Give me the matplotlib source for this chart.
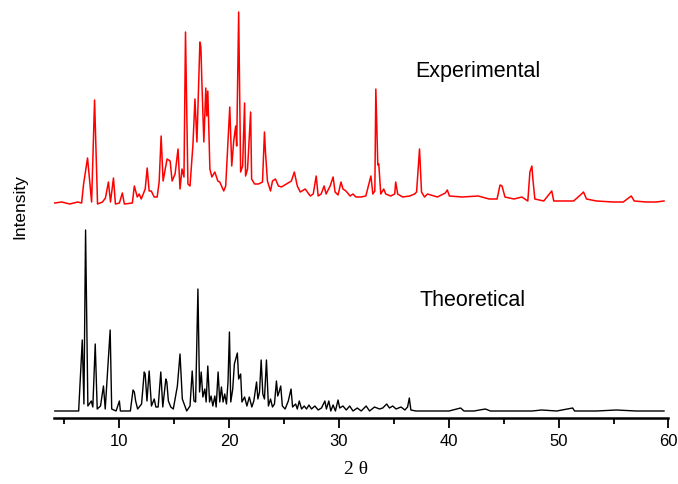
import matplotlib
matplotlib.use("Agg")
import matplotlib.pyplot as plt
import numpy as np

# Experimental pattern (2-theta, intensity a.u.)
exp_2theta = [4.12, 4.75, 5.48, 6.20, 6.56, 6.74, 7.10, 7.47, 7.74, 8.01, 8.46, 8.73, 9.00, 9.19, 9.46, 9.64,
              10.00, 10.27, 10.45, 11.18, 11.36, 11.63, 11.81, 11.99, 12.35, 12.53, 12.71, 12.90, 13.17, 13.44,
              13.62, 13.80, 13.98, 14.34, 14.62, 14.80, 15.07, 15.34, 15.52, 15.70, 15.88, 16.02, 16.24, 16.43,
              16.70, 16.88, 17.06, 17.33, 17.42, 17.51, 17.69, 17.87, 17.96, 18.05, 18.24, 18.42, 18.69, 18.96,
              19.14, 19.50, 19.68, 20.05, 20.23, 20.41, 20.59, 20.68, 20.86, 21.04, 21.22, 21.40, 21.49, 21.67,
              21.95, 22.04, 22.31, 22.67, 23.03, 23.21, 23.30, 23.48, 23.76, 23.94, 24.21, 24.48, 24.75, 25.20,
              25.66, 25.93, 26.20, 26.47, 26.92, 27.38, 27.65, 27.92, 28.10, 28.37, 28.64, 28.82, 29.19, 29.46,
              29.64, 29.91, 30.18, 30.36, 30.63, 31.00, 31.27, 31.54, 31.99, 32.44, 32.90, 33.08, 33.26, 33.35,
              33.53, 33.62, 33.80, 34.07, 34.25, 34.71, 35.07, 35.16, 35.34, 35.79, 36.43, 36.88, 37.06, 37.33,
              37.51, 37.78, 38.05, 38.96, 39.68, 39.86, 40.05, 41.22, 42.67, 43.67, 44.39, 44.66, 44.84, 45.11,
              45.93, 46.65, 47.19, 47.38, 47.56, 47.65, 47.83, 48.64, 49.37, 49.55, 50.45, 51.36, 52.08, 52.26,
              52.53, 53.44, 54.98, 55.88, 56.61, 56.88, 57.96, 58.87, 59.59]
exp_int = [1, 2, 0, 2, 1, 20, 46, 2, 104, 0, 2, 6, 22, 2, 26, 0,
           1, 11, 0, 1, 18, 7, 10, 5, 15, 36, 13, 13, 7, 7,
           22, 68, 23, 45, 43, 23, 30, 55, 15, 35, 27, 172, 20, 18,
           60, 105, 62, 162, 157, 122, 62, 116, 88, 113, 35, 27, 32, 23,
           22, 13, 18, 97, 38, 63, 78, 58, 192, 32, 38, 101, 28, 35,
           92, 25, 20, 20, 22, 72, 52, 23, 13, 23, 25, 18, 17, 20,
           23, 32, 18, 12, 15, 8, 10, 28, 8, 10, 18, 10, 18, 27,
           12, 9, 22, 15, 13, 8, 10, 7, 7, 8, 28, 10, 13, 115,
           39, 40, 10, 15, 10, 8, 10, 22, 10, 7, 8, 10, 12, 55,
           12, 7, 10, 7, 11, 14, 8, 7, 8, 5, 5, 19, 18, 7,
           5, 7, 3, 32, 38, 25, 5, 3, 13, 3, 3, 3, 10, 12,
           5, 3, 2, 2, 8, 3, 2, 2, 3]

# Theoretical (calculated) pattern
theo_2theta = [4.12, 6.29, 6.62, 6.77, 6.92, 7.13, 7.44, 7.58, 7.80, 7.98, 8.28, 8.55, 8.71, 9.16, 9.30, 9.70,
               10.00, 10.09, 11.00, 11.24, 11.36, 11.48, 11.66, 12.02, 12.26, 12.35, 12.51, 12.71, 12.92, 13.17,
               13.32, 13.53, 13.77, 13.95, 14.23, 14.32, 14.46, 14.68, 14.91, 15.28, 15.52, 15.73, 16.13, 16.43,
               16.63, 16.79, 16.94, 17.15, 17.30, 17.45, 17.60, 17.78, 17.90, 18.05, 18.21, 18.35, 18.51, 18.69,
               18.81, 18.99, 19.14, 19.29, 19.44, 19.59, 19.75, 19.89, 20.02, 20.14, 20.32, 20.47, 20.74, 20.86,
               21.04, 21.16, 21.40, 21.61, 21.83, 22.06, 22.24, 22.49, 22.61, 22.76, 22.91, 23.06, 23.21, 23.39,
               23.57, 23.76, 23.94, 24.12, 24.30, 24.42, 24.54, 24.69, 24.84, 25.09, 25.38, 25.63, 25.77, 26.05,
               26.20, 26.38, 26.59, 26.83, 27.04, 27.26, 27.49, 27.80, 28.10, 28.40, 28.71, 28.85, 29.07, 29.25,
               29.46, 29.67, 29.91, 30.06, 30.36, 30.66, 30.97, 31.27, 31.66, 32.02, 32.47, 32.78, 33.23, 33.68,
               33.98, 34.34, 34.59, 34.89, 35.19, 35.64, 36.00, 36.24, 36.40, 36.54, 37.00, 37.76, 38.96, 40.02,
               41.07, 41.38, 42.28, 43.33, 43.78, 45.00, 46.20, 47.56, 48.46, 49.82, 51.27, 51.45, 53.44, 55.25,
               57.06, 59.59]
theo_int = [0, 0, 71, 7, 181, 5, 10, 4, 67, 2, 5, 25, 2, 81, 2, 0,
            10, 0, 0, 21, 19, 10, 2, 7, 39, 37, 10, 40, 5, 12,
            4, 4, 39, 4, 32, 29, 10, 4, 2, 25, 57, 12, 0, 5,
            40, 10, 9, 122, 19, 39, 14, 22, 9, 45, 9, 15, 5, 15,
            4, 39, 9, 24, 9, 17, 7, 29, 79, 9, 22, 47, 58, 32,
            37, 9, 14, 5, 14, 4, 10, 29, 12, 19, 51, 17, 12, 51,
            5, 12, 4, 7, 30, 15, 19, 25, 5, 2, 10, 22, 4, 7,
            2, 10, 2, 5, 2, 6, 2, 5, 1, 3, 10, 2, 10, 0,
            6, 0, 11, 3, 5, 1, 5, 0, 3, 0, 5, 0, 4, 2,
            3, 7, 3, 5, 2, 4, 1, 4, 13, 1, 0, 0, 0, 0,
            3, 0, 0, 2, 0, 0, 0, 0, 1, 0, 3, 0, 0, 1,
            0, 0]

xticks_major = [10, 20, 30, 40, 50, 60]
xticks_minor = [5, 15, 25, 35, 45, 55]

W, H = 678, 485
fig = plt.figure(figsize=(W / 100, H / 100), dpi=100)
ax = fig.add_axes([53.5 / W, 66 / H, (668.5 - 53.5) / W, 419 / H])

theo_offset = 7
exp_offset = 214
ax.plot(theo_2theta, np.array(theo_int) + theo_offset, color="black", lw=1.0)
ax.plot(exp_2theta, np.array(exp_int) + exp_offset, color="#ff0000", lw=1.1)

ax.set_xlim(4, 60)
ax.set_ylim(0, 419)

for s in ["left", "right", "top"]:
    ax.spines[s].set_visible(False)
ax.spines["bottom"].set_linewidth(1.8)
ax.set_yticks([])
ax.set_xticks(xticks_major)
ax.set_xticks(xticks_minor, minor=True)
ax.set_xticklabels([str(t) for t in xticks_major], fontfamily="Liberation Sans", fontsize=12)
ax.tick_params(axis="x", which="major", direction="out", length=7, width=1.3, pad=4)
ax.tick_params(axis="x", which="minor", direction="out", length=4, width=1.3)

ax.text(42.6, 348, "Experimental", ha="center", va="center", fontfamily="Liberation Sans", fontsize=15.5)
ax.text(42.2, 119, "Theoretical", ha="center", va="center", fontfamily="Liberation Sans", fontsize=15.5)

fig.text(20 / W, 1 - 207 / H, "Intensity", rotation=90, ha="center", va="center",
         fontfamily="Liberation Sans", fontsize=12.5)
fig.text(356 / W, 1 - 470 / H, "2 θ", ha="center", va="center", fontfamily="Liberation Serif", fontsize=14)

fig.savefig("out.png", dpi=100)
